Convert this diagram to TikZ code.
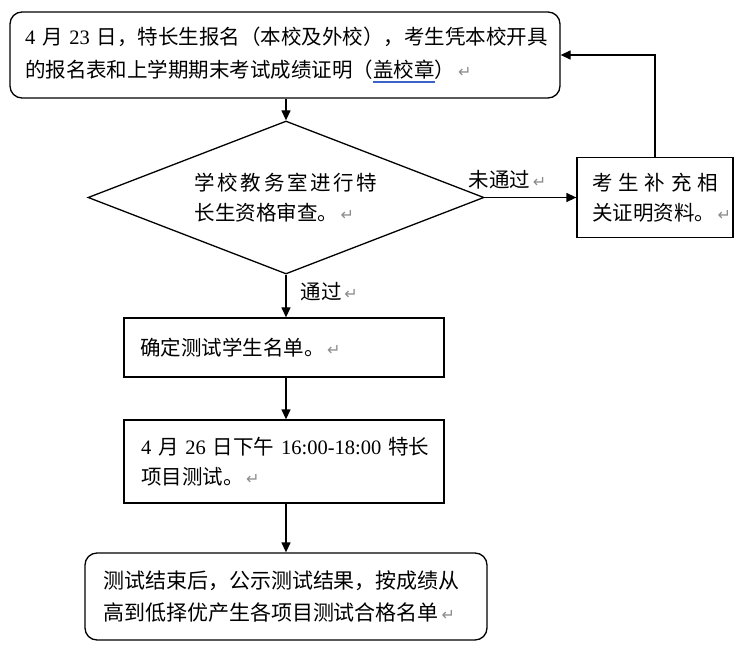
\documentclass[tikz,border=0pt]{standalone}
\usepackage{fontspec}
\setmainfont{Liberation Serif}
\newfontfamily\cjk{Noto Sans CJK SC}
\newfontfamily\symf{DejaVu Sans}
\usetikzlibrary{arrows.meta,shapes.geometric}
\definecolor{ulblue}{RGB}{60,100,200}
\newcommand\pmark{{\symf\fontsize{16}{16}\selectfont\color{black!45}\,↵}}
\newcommand\dg[1]{{\rmfamily #1}}
\newsavebox\ulbox
\newcommand\bluline[1]{\sbox\ulbox{#1}\rlap{\textcolor{ulblue}{\rule[-5pt]{\wd\ulbox}{1.5pt}}}\usebox\ulbox}
\begin{document}
\begin{tikzpicture}[x=1pt,y=-1pt,
  every node/.style={font=\cjk\fontsize{20.5}{30}\selectfont, inner sep=0pt},
  box/.style={draw, line width=1.3pt, rectangle, align=left},
  rbox/.style={box, rounded corners=12pt},
  arr/.style={line width=1.3pt, -{Triangle[length=10pt,width=9pt]}}]
\fill[white] (0,0) rectangle (753,655);
\useasboundingbox (0,0) rectangle (753,655);

\node[rbox, minimum width=550pt, minimum height=86pt, text width=520pt,
      font=\cjk\fontsize{20.5}{33}\selectfont] (top) at (285,55)
  {\mbox{\dg{4 }月\dg{ 23 }日，特长生报名（本校及外校），考生凭本校开具}\\
   的报名表和上学期期末考试成绩证明（\bluline{盖校章}）\pmark};

\node[draw, line width=1.3pt, diamond, aspect=2.6, minimum width=396pt,
      minimum height=153pt, text width=183pt, align=left] (dia) at (286,197.5)
  {\makebox[183pt][s]{学\hfill 校\hfill 教\hfill 务\hfill 室\hfill 进\hfill 行\hfill 特}\\
   长生资格审查。\pmark};

\node[box, minimum width=156pt, minimum height=80pt, text width=126pt] (side) at (655,197.5)
  {\makebox[126pt][s]{考\hfill 生\hfill 补\hfill 充\hfill 相}\\
   关证明资料。\pmark};

\node[box, minimum width=320pt, minimum height=59pt, text width=288pt] (b1) at (284,347.5)
  {确定测试学生名单。\pmark};

\node[box, minimum width=320pt, minimum height=83pt, text width=286pt] (b2) at (284,461.5)
  {\mbox{\dg{4 }月\dg{ 26 }日下午\dg{ 16:00-18:00 }特长}\\
   项目测试。\pmark};

\node[rbox, minimum width=402pt, minimum height=87pt, text width=366pt,
      font=\cjk\fontsize{21}{32}\selectfont] (b3) at (286,596.5)
  {测试结束后，公示测试结果，按成绩从\\
   高到低择优产生各项目测试合格名单\pmark};

\draw[arr] (top.south -| dia.north) -- (dia.north);
\draw[arr] (dia.east) -- node[pos=0.25, above=8pt] (l1) {未通过\pmark} (side.west);
\draw[arr] (side.north) |- (top.east);
\draw[arr] (dia.south) -- node[pos=0.4, right=14pt] (l2) {通过\pmark} (dia.south |- b1.north);
\draw[arr] (b1.south -| dia.south) -- (dia.south |- b2.north);
\draw[arr] (b2.south -| dia.south) -- (dia.south |- b3.north);
\end{tikzpicture}
\end{document}
